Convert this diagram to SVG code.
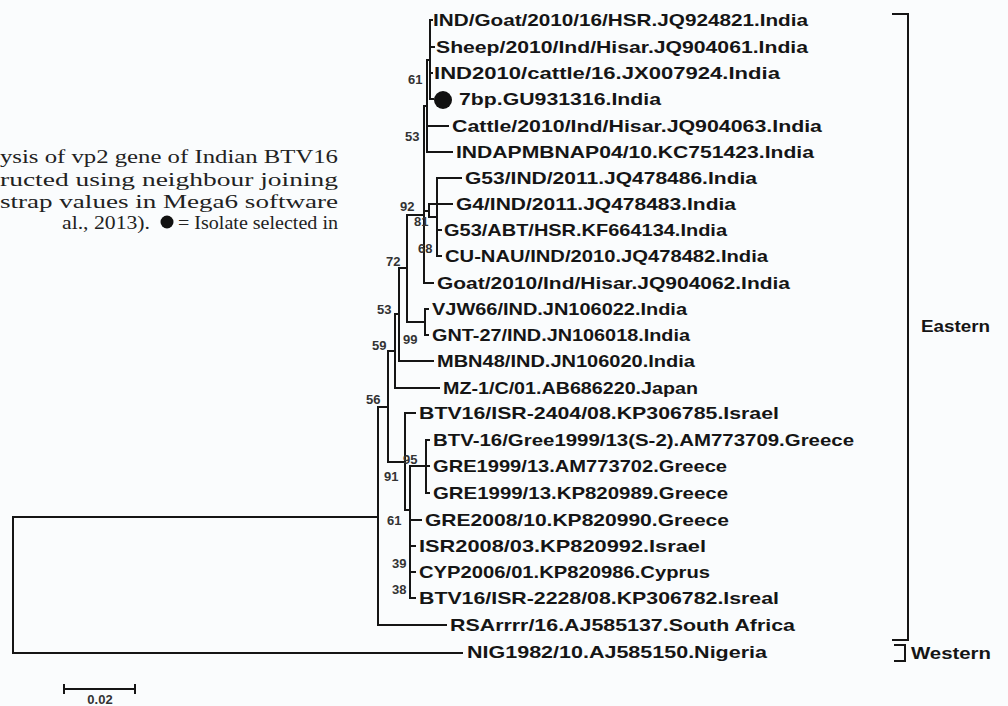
<svg xmlns="http://www.w3.org/2000/svg" width="1008" height="706" viewBox="0 0 1008 706">
<style>
.bg{fill:#fafcfd}
.br{fill:none;stroke:#151515;stroke-width:2;stroke-linecap:square}
.lf{font-family:"Liberation Sans",Arial,sans-serif;font-weight:bold;font-size:17px;fill:#151515}
.bs{font-family:"Liberation Sans",Arial,sans-serif;font-weight:bold;font-size:13px;fill:#333}
.cap{font-family:"Liberation Serif","Times New Roman",serif;font-size:18px;fill:#222}
.grp{font-family:"Liberation Sans",Arial,sans-serif;font-weight:bold;font-size:16px;fill:#151515}
</style>
<rect class="bg" x="0" y="0" width="1008" height="706"/>
<g id="caption">
<text class="cap" x="0" y="163" textLength="338" lengthAdjust="spacingAndGlyphs">ysis of vp2 gene of Indian BTV16</text>
<text class="cap" x="0" y="186" textLength="338" lengthAdjust="spacingAndGlyphs">ructed using neighbour joining</text>
<text class="cap" x="0" y="208" textLength="338" lengthAdjust="spacingAndGlyphs">strap values in Mega6 software</text>
<text class="cap" x="62" y="229" textLength="88" lengthAdjust="spacingAndGlyphs">al., 2013).</text>
<circle cx="167" cy="222" r="6.5" fill="#111"/>
<text class="cap" x="178" y="229" textLength="160" lengthAdjust="spacingAndGlyphs">= Isolate selected in</text>
</g>
<g id="connectors" class="br">
<path d="M430,20 V99 M430,20 H432 M430,47 H434 M430,73 H432 M430,99 H433"/>
<path d="M427,60 V152 M427,60 H430 M427,126 H448 M427,152 H452"/>
<path d="M424,106 V283 M424,106 H427 M424,211 H429 M424,283 H433"/>
<path d="M429,204 V217 M429,204 H452 M429,217 H437"/>
<path d="M437,178 V256 M437,178 H461 M437,230 H441 M437,256 H441"/>
<path d="M407,215 H424 M407,215 V322 M407,322 H425"/>
<path d="M425,309 V335 M425,309 H428 M425,335 H428"/>
<path d="M399,268 V361 M399,268 H407 M399,361 H433"/>
<path d="M395,314 V388 M395,314 H399 M395,388 H439"/>
<path d="M388,351 V462 M388,351 H395 M388,462 H405"/>
<path d="M405,413 V510 M405,413 H415 M405,510 H410"/>
<path d="M426,440 V493 M426,440 H429 M426,466 H429 M426,493 H429 M410,466 H426"/>
<path d="M410,466 V598 M410,520 H421 M410,546 H415 M410,572 H415 M410,598 H415"/>
<path d="M378,407 H388 M378,407 V625 M378,625 H446"/>
<path d="M13,517 H378 M13,517 V653 M13,653 H462"/>
</g>
<g id="leaves">
<g id="n1"><text class="lf" x="433" y="26" textLength="375" lengthAdjust="spacingAndGlyphs">IND/Goat/2010/16/HSR.JQ924821.India</text></g>
<g id="n2"><text class="lf" x="436" y="53" textLength="372" lengthAdjust="spacingAndGlyphs">Sheep/2010/Ind/Hisar.JQ904061.India</text></g>
<g id="n3"><text class="lf" x="434" y="79" textLength="346" lengthAdjust="spacingAndGlyphs">IND2010/cattle/16.JX007924.India</text></g>
<g id="n4"><circle cx="443" cy="100" r="9" fill="#111"/><text class="lf" x="459" y="105" textLength="202" lengthAdjust="spacingAndGlyphs">7bp.GU931316.India</text></g>
<g id="n5"><text class="lf" x="452" y="132" textLength="370" lengthAdjust="spacingAndGlyphs">Cattle/2010/Ind/Hisar.JQ904063.India</text></g>
<g id="n6"><text class="lf" x="456" y="158" textLength="358" lengthAdjust="spacingAndGlyphs">INDAPMBNAP04/10.KC751423.India</text></g>
<g id="n7"><text class="lf" x="465" y="184" textLength="292" lengthAdjust="spacingAndGlyphs">G53/IND/2011.JQ478486.India</text></g>
<g id="n8"><text class="lf" x="456" y="210" textLength="280" lengthAdjust="spacingAndGlyphs">G4/IND/2011.JQ478483.India</text></g>
<g id="n9"><text class="lf" x="444" y="236" textLength="283" lengthAdjust="spacingAndGlyphs">G53/ABT/HSR.KF664134.India</text></g>
<g id="n10"><text class="lf" x="445" y="262" textLength="323" lengthAdjust="spacingAndGlyphs">CU-NAU/IND/2010.JQ478482.India</text></g>
<g id="n11"><text class="lf" x="437" y="289" textLength="353" lengthAdjust="spacingAndGlyphs">Goat/2010/Ind/Hisar.JQ904062.India</text></g>
<g id="n12"><text class="lf" x="432" y="315" textLength="255" lengthAdjust="spacingAndGlyphs">VJW66/IND.JN106022.India</text></g>
<g id="n13"><text class="lf" x="432" y="341" textLength="258" lengthAdjust="spacingAndGlyphs">GNT-27/IND.JN106018.India</text></g>
<g id="n14"><text class="lf" x="437" y="367" textLength="258" lengthAdjust="spacingAndGlyphs">MBN48/IND.JN106020.India</text></g>
<g id="n15"><text class="lf" x="443" y="394" textLength="255" lengthAdjust="spacingAndGlyphs">MZ-1/C/01.AB686220.Japan</text></g>
<g id="n16"><text class="lf" x="419" y="419" textLength="360" lengthAdjust="spacingAndGlyphs">BTV16/ISR-2404/08.KP306785.Israel</text></g>
<g id="n17"><text class="lf" x="433" y="446" textLength="421" lengthAdjust="spacingAndGlyphs">BTV-16/Gree1999/13(S-2).AM773709.Greece</text></g>
<g id="n18"><text class="lf" x="433" y="472" textLength="294" lengthAdjust="spacingAndGlyphs">GRE1999/13.AM773702.Greece</text></g>
<g id="n19"><text class="lf" x="433" y="499" textLength="295" lengthAdjust="spacingAndGlyphs">GRE1999/13.KP820989.Greece</text></g>
<g id="n20"><text class="lf" x="425" y="526" textLength="304" lengthAdjust="spacingAndGlyphs">GRE2008/10.KP820990.Greece</text></g>
<g id="n21"><text class="lf" x="419" y="552" textLength="287" lengthAdjust="spacingAndGlyphs">ISR2008/03.KP820992.Israel</text></g>
<g id="n22"><text class="lf" x="419" y="578" textLength="291" lengthAdjust="spacingAndGlyphs">CYP2006/01.KP820986.Cyprus</text></g>
<g id="n23"><text class="lf" x="419" y="604" textLength="360" lengthAdjust="spacingAndGlyphs">BTV16/ISR-2228/08.KP306782.Isreal</text></g>
<g id="n24"><text class="lf" x="450" y="631" textLength="345" lengthAdjust="spacingAndGlyphs">RSArrrr/16.AJ585137.South Africa</text></g>
<g id="n25"><text class="lf" x="467" y="658" textLength="300" lengthAdjust="spacingAndGlyphs">NIG1982/10.AJ585150.Nigeria</text></g>
</g>
<g id="bootstrap">
<text class="bs" x="408" y="84">61</text>
<text class="bs" x="405" y="141">53</text>
<text class="bs" x="400" y="211">92</text>
<text class="bs" x="414" y="226">81</text>
<text class="bs" x="418" y="253">68</text>
<text class="bs" x="386" y="266">72</text>
<text class="bs" x="377" y="314">53</text>
<text class="bs" x="403" y="344">99</text>
<text class="bs" x="372" y="350">59</text>
<text class="bs" x="366" y="404">56</text>
<text class="bs" x="403" y="464">95</text>
<text class="bs" x="384" y="481">91</text>
<text class="bs" x="387" y="525">61</text>
<text class="bs" x="392" y="568">39</text>
<text class="bs" x="392" y="594">38</text>
</g>
<g id="eastern">
<path class="br" d="M893,14 H908 V640 H893"/>
<text class="grp" x="921" y="332" textLength="69" lengthAdjust="spacingAndGlyphs">Eastern</text>
</g>
<g id="western">
<path class="br" d="M895,645 H905 V661 H895"/>
<text class="grp" x="911" y="659" textLength="80" lengthAdjust="spacingAndGlyphs">Western</text>
</g>
<g id="scalebar">
<path class="br" d="M64,689 H135 M64,685 V693 M135,685 V693"/>
<text class="bs" x="100" y="704" text-anchor="middle" font-size="10">0.02</text>
</g>
</svg>
